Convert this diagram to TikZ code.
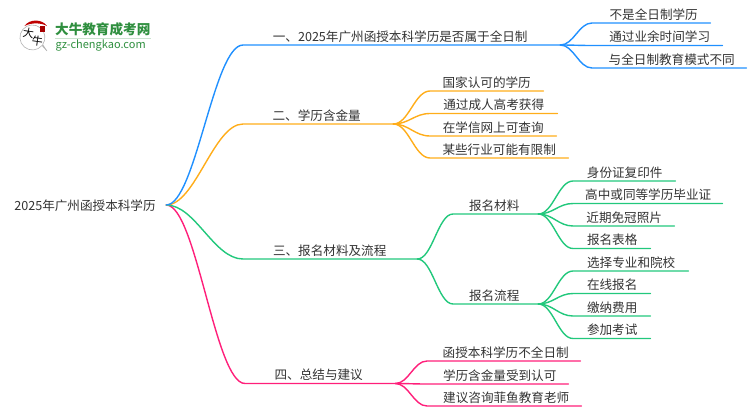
\documentclass[tikz,border=0pt]{standalone}
\usepackage{fontspec}
\setmainfont{Noto Sans CJK SC}
\usetikzlibrary{calc}
\definecolor{cblue}{HTML}{2090FF}
\definecolor{corange}{HTML}{FFAD1A}
\definecolor{cgreen}{HTML}{22C87C}
\definecolor{cpink}{HTML}{FF1F7A}
\definecolor{ctext}{HTML}{333333}
\definecolor{clogo}{HTML}{2F8F3F}
\tikzset{
  lbl/.style={font=\fontsize{12.6}{14}\selectfont, text=ctext, inner sep=0pt, anchor=south west, minimum height=18pt, text height=11.5pt, text depth=0.5pt},
  wire/.style={line width=1.4pt, line cap=round},
}
% \lf{name}{x0}{x1}{y}{text}: \lfl and \lfr are kerns left and right of the text
\newcommand{\lfl}{0pt}
\newcommand{\lfr}{3pt}
\newcommand{\lf}[5]{%
  \pgfmathsetmacro{\lfwidth}{#3-#2}
  \node[lbl, minimum width=\lfwidth pt] (#1) at (#2,#4) {\kern\lfl #5\kern\lfr};
}
% \lk{colour}{from}{to}{factor}
\newcommand{\lk}[4]{%
  \draw[wire,#1] let \p1=(#2),\p2=(#3.south west),\n1={#4*(\x2-\x1)} in
    (#2) .. controls (\x1+\n1,\y1) and (\x2-\n1,\y2) .. (#3.south west) -- (#3.south east);
}
\begin{document}
\begin{tikzpicture}[x=1pt,y=-1pt]
\useasboundingbox (0,0) rectangle (750,410);
% logo
\draw[line width=0.6pt, black!30, fill=white] (47,51) -- (42,45.5) arc[start angle=40,end angle=395,radius=12.5] -- cycle;
\fill[red!75!black] (24.5,26) .. controls (29,19) and (42,18.5) .. (47,26) .. controls (41,22.5) and (31,22.5) .. (24.5,26) -- cycle;
\fill[red!65!black] (39.5,26) rectangle (45,32);
\node[inner sep=0pt, font=\fontsize{11}{11}\selectfont, rotate=-8] (logoa) at (28.5,33.5) {大};
\node[inner sep=0pt, font=\fontsize{11}{11}\selectfont, rotate=-8] (logob) at (37.5,41.5) {牛};
\node[inner sep=0pt, anchor=west, text=clogo, font=\fontsize{13.6}{14}\selectfont\bfseries] (logoc) at (55,29.5) {大牛教育成考网};
\draw[clogo!25, line width=0.8pt] (logoc.west |- 0,38.5) -- (logoc.east |- 0,38.5);
\node[inner sep=0pt, anchor=west, text=clogo, font=\fontsize{11}{12}\selectfont] (logod) at (55.5,45.5) {gz-chengkao.com};
% root
\node[inner sep=0pt, minimum width=162pt, minimum height=18pt, text=ctext, font=\fontsize{12.6}{14}\selectfont, text height=11.5pt, text depth=0.5pt] (root) at (85,205) {2025年广州函授本科学历};
% branch 1
\lf{a}{243}{560}{45}{一、2025年广州函授本科学历是否属于全日制}
\renewcommand{\lfl}{5pt}\renewcommand{\lfr}{0pt}
\lf{a1}{592}{710}{23}{不是全日制学历}
\lf{a2}{592}{722}{45.5}{通过业余时间学习}
\lf{a3}{592}{746}{68}{与全日制教育模式不同}
% branch 2
\renewcommand{\lfl}{0pt}\renewcommand{\lfr}{3pt}
\lf{b}{243}{393}{124}{二、学历含金量}
\renewcommand{\lfr}{0pt}
\lf{b1}{430}{543}{91}{国家认可的学历}
\lf{b2}{430}{557}{113.5}{通过成人高考获得}
\lf{b3}{430}{556}{136}{在学信网上可查询}
\lf{b4}{430}{568}{158}{某些行业可能有限制}
% branch 3
\renewcommand{\lfr}{1pt}
\lf{c}{243}{417}{259}{三、报名材料及流程}
\renewcommand{\lfr}{3pt}
\lf{c1}{453}{538}{214}{报名材料}
\lf{c2}{453}{538}{304}{报名流程}
\renewcommand{\lfl}{1pt}\renewcommand{\lfr}{0pt}
\lf{c11}{573}{675}{181}{身份证复印件}
\lf{c12}{573}{722}{203.5}{高中或同等学历毕业证}
\lf{c13}{573}{674}{226}{近期免冠照片}
\lf{c14}{573}{650}{248.5}{报名表格}
\lf{c21}{573}{688}{271}{选择专业和院校}
\lf{c22}{573}{650}{293.5}{在线报名}
\lf{c23}{573}{650}{316}{缴纳费用}
\lf{c24}{573}{650}{338.5}{参加考试}
% branch 4
\renewcommand{\lfl}{0pt}\renewcommand{\lfr}{3pt}
\lf{d}{245}{395}{383.5}{四、总结与建议}
\renewcommand{\lfl}{4pt}\renewcommand{\lfr}{0pt}
\lf{d1}{427}{580}{361}{函授本科学历不全日制}
\lf{d2}{427}{568}{384}{学历含金量受到认可}
\lf{d3}{427}{581}{406}{建议咨询菲鱼教育老师}
% connectors
\lk{cpink}{root.east}{d}{0.38}
\lk{cgreen}{root.east}{c}{0.38}
\lk{corange}{root.east}{b}{0.38}
\lk{cblue}{root.east}{a}{0.38}
\foreach \kid in {a1,a2,a3} {\lk{cblue}{a.south east}{\kid}{0.42}}
\foreach \kid in {b1,b2,b3,b4} {\lk{corange}{b.south east}{\kid}{0.42}}
\foreach \kid in {c1,c2} {\lk{cgreen}{c.south east}{\kid}{0.42}}
\foreach \kid in {c11,c12,c13,c14} {\lk{cgreen}{c1.south east}{\kid}{0.42}}
\foreach \kid in {c21,c22,c23,c24} {\lk{cgreen}{c2.south east}{\kid}{0.42}}
\foreach \kid in {d1,d2,d3} {\lk{cpink}{d.south east}{\kid}{0.42}}
\end{tikzpicture}
\end{document}
